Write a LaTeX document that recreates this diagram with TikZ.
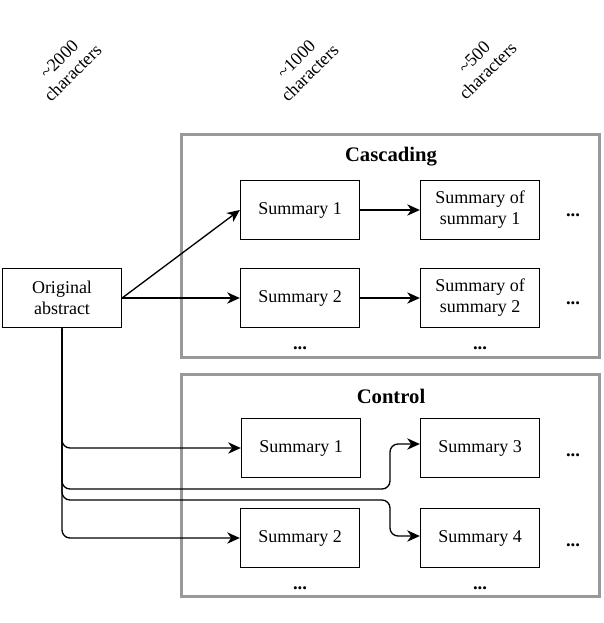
\documentclass[tikz,border=0pt]{standalone}
\usepackage{fontspec}
\setmainfont{Liberation Serif}
\usetikzlibrary{arrows.meta}
\definecolor{framegrey}{HTML}{999999}

\begin{document}
\begin{tikzpicture}[x=0.75pt,y=-0.75pt,
  box/.style={draw,line width=1pt,minimum width=89.25pt,minimum height=44.5pt,align=center,inner sep=2pt,font=\fontsize{13.5}{15.8}\selectfont},
  frame/.style={draw=framegrey,line width=2.25pt,minimum width=313.5pt,minimum height=166.5pt},
  title/.style={font=\fontsize{15.5}{18}\selectfont\bfseries},
  dots/.style={font=\fontsize{14}{16}\selectfont\bfseries},
  lab/.style={rotate=45,align=center,font=\fontsize{13.5}{14.5}\selectfont},
  link/.style={line width=1pt,-{Stealth[length=9.5pt,width=8.5pt,inset=3pt]},rounded corners=6pt}
]
\useasboundingbox (0,0) rectangle (603,623);
% column labels
\node[lab] (lab2000) at (66,66) {\textasciitilde2000\\characters};
\node[lab] (lab1000) at (303,66) {\textasciitilde1000\\characters};
\node[lab] (lab500) at (481,64) {\textasciitilde500\\characters};
% frames
\node[frame] (casFrame) at (390,246) {};
\node[frame] (ctlFrame) at (390,485) {};
\node[title] (casTitle) at (391,157) {Cascading};
\node[title] (ctlTitle) at (391,396) {Control};
% boxes
\node[box] (abstract) at (62,298) {Original\\abstract};
\node[box] (casS1) at (300,210) {Summary 1};
\node[box] (casSS1) at (480,210) {Summary of\\summary 1};
\node[box] (casS2) at (300,298) {Summary 2};
\node[box] (casSS2) at (480,298) {Summary of\\summary 2};
\node[box] (ctlS1) at (301,448) {Summary 1};
\node[box] (ctlS3) at (480,448) {Summary 3};
\node[box] (ctlS2) at (300,538) {Summary 2};
\node[box] (ctlS4) at (480,538) {Summary 4};
% dots
\node[dots] (casDotsA) at (573,215) {...};
\node[dots] (casDotsB) at (573,303) {...};
\node[dots] (casDotsC) at (300,348) {...};
\node[dots] (casDotsD) at (480,348) {...};
\node[dots] (ctlDotsA) at (573,455) {...};
\node[dots] (ctlDotsB) at (573,545) {...};
\node[dots] (ctlDotsC) at (300,588) {...};
\node[dots] (ctlDotsD) at (480,588) {...};
% connectors
\draw[link] (abstract.east) -- (casS1.west);
\draw[link] (abstract.east) -- (casS2.west);
\draw[link] (casS1) -- (casSS1);
\draw[link] (casS2) -- (casSS2);
\draw[link] (abstract.south) |- (ctlS1.west);
\draw[link] (abstract.south) |- (390,489) |- ([yshift=3pt]ctlS3.west);
\draw[link] (abstract.south) |- (390,500) |- ([yshift=1.5pt]ctlS4.west);
\draw[link] (abstract.south) |- (ctlS2.west);
\end{tikzpicture}
\end{document}
